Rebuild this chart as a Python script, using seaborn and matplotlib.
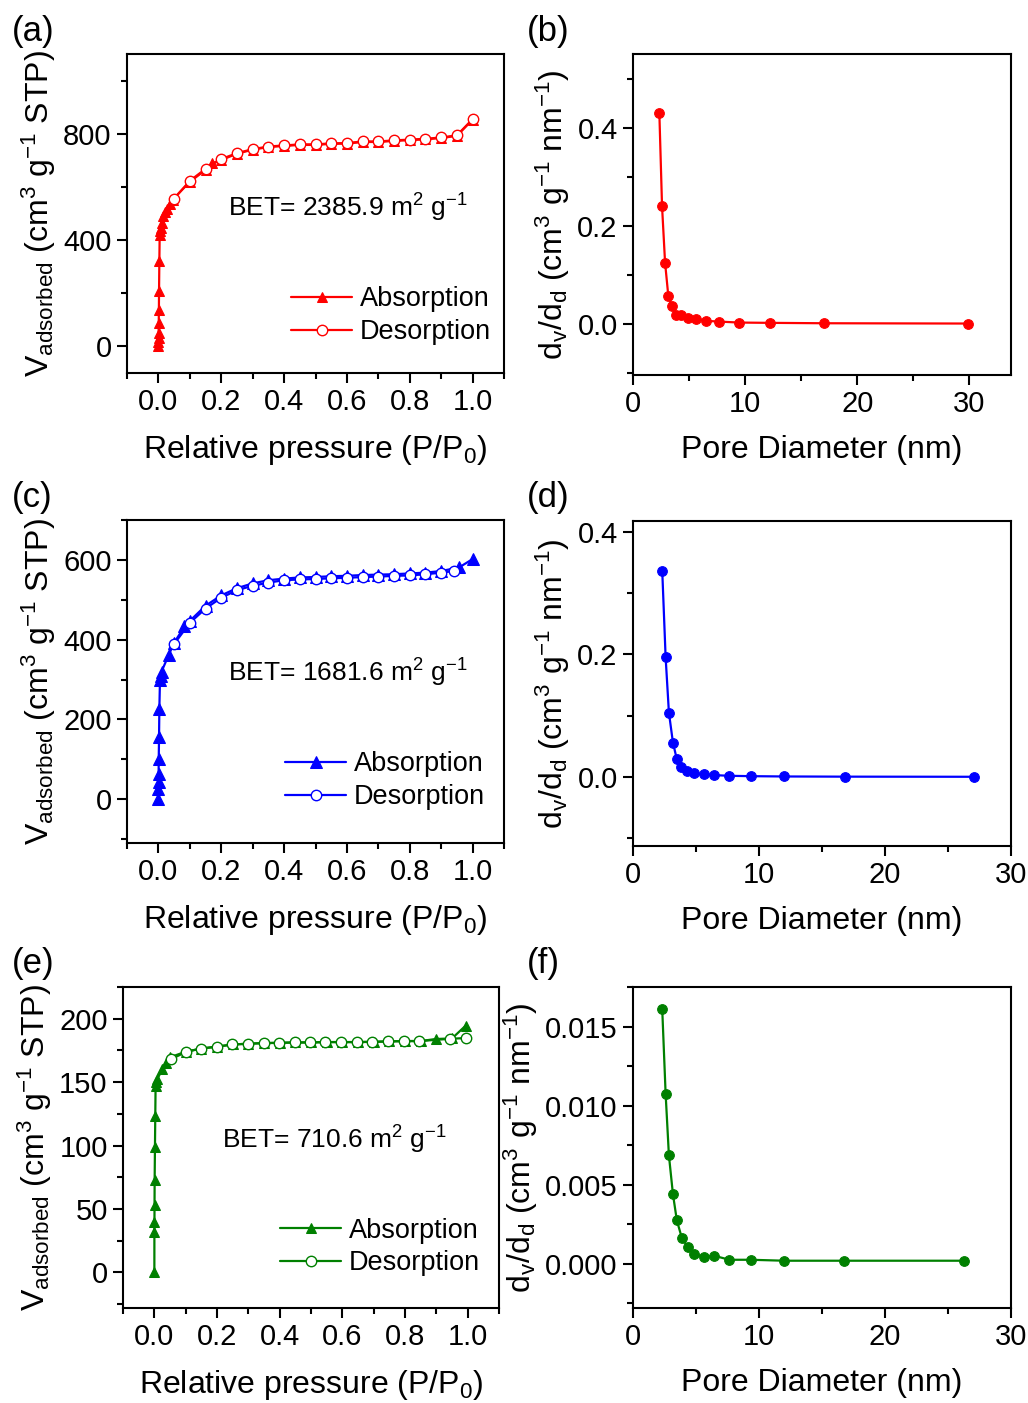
import seaborn as sns
import matplotlib.pyplot as plt
from matplotlib.ticker import MultipleLocator, FormatStrFormatter

# isotherm (a)
ads_a_x = [0.0001, 0.0002, 0.0004, 0.0006, 0.001, 0.0015, 0.002, 0.003, 0.004, 0.005, 0.007,
           0.01, 0.015, 0.02, 0.028, 0.036, 0.045, 0.1, 0.15, 0.17, 0.2, 0.25, 0.3, 0.35, 0.4,
           0.45, 0.5, 0.55, 0.6, 0.65, 0.7, 0.75, 0.8, 0.85, 0.9, 0.95, 1.0]
ads_a_y = [2, 15, 30, 50, 88, 136, 210, 322, 420, 435, 446,
           464, 489, 505, 517, 537, 552, 619, 664, 689, 701, 725, 740, 750, 754,
           758, 758, 762, 763, 769, 769, 773, 776, 779, 784, 792, 853]
des_a_x = [1.0, 0.95, 0.9, 0.85, 0.8, 0.75, 0.7, 0.65, 0.6, 0.55, 0.5, 0.45, 0.4, 0.35,
           0.3, 0.25, 0.2, 0.15, 0.1, 0.05]
des_a_y = [855, 794, 786, 781, 778, 775, 771, 771, 765, 764, 760, 760, 756, 752,
           742, 727, 705, 668, 623, 556]

# isotherm (c)
ads_c_x = [0.0001, 0.0002, 0.0004, 0.0006, 0.001, 0.002, 0.003, 0.005, 0.007, 0.01,
           0.033, 0.05, 0.083, 0.1, 0.15, 0.2, 0.25, 0.3, 0.35, 0.4, 0.45, 0.5, 0.55,
           0.6, 0.65, 0.7, 0.75, 0.8, 0.85, 0.9, 0.957, 1.0]
ads_c_y = [0, 25, 42, 63, 101, 156, 227, 300, 310, 320,
           362, 392, 433, 447, 485, 511, 529, 541, 549, 553, 556, 557, 559,
           560, 562, 563, 564, 566, 568, 572, 581, 602]
des_c_x = [0.94, 0.9, 0.85, 0.8, 0.75, 0.7, 0.65, 0.6, 0.55, 0.5, 0.45, 0.4, 0.35,
           0.3, 0.25, 0.2, 0.15, 0.1, 0.05]
des_c_y = [572, 568, 564, 561, 560, 558, 557, 555, 554, 552, 551, 549, 543,
           535, 524, 505, 478, 442, 389]

# isotherm (e)
ads_e_x = [0.0001, 0.0002, 0.0004, 0.0006, 0.001, 0.002, 0.003, 0.004, 0.006,
           0.01, 0.026, 0.037, 0.05, 0.1, 0.15, 0.2, 0.25, 0.3, 0.35, 0.4, 0.45, 0.5,
           0.55, 0.6, 0.65, 0.7, 0.75, 0.8, 0.85, 0.898, 0.95, 0.994]
ads_e_y = [0, 32, 40, 53, 73, 99, 123, 147, 150,
           152.6, 160.5, 165, 169.6, 174, 176.5, 178, 179.7, 180.3, 180.8, 181, 181.3, 181.3,
           181.6, 181.6, 181.6, 181.8, 182.1, 182.4, 182.4, 184, 184.5, 194.6]
des_e_x = [0.996, 0.945, 0.846, 0.796, 0.746, 0.695, 0.646, 0.596, 0.546, 0.497, 0.448,
           0.398, 0.35, 0.3, 0.249, 0.2, 0.15, 0.102, 0.053]
des_e_y = [184.8, 184.2, 182.4, 182.4, 182.1, 181.8, 181.6, 181.6, 181.6, 181.3, 181.3,
           181, 180.8, 180.3, 179.7, 178, 176.5, 174, 168]

# pore size distributions
pore_b_x = [2.35, 2.59, 2.86, 3.15, 3.48, 3.84, 4.29, 4.88, 5.6, 6.49, 7.7, 9.44, 12.2, 17.0, 29.9]
pore_b_y = [0.429, 0.239, 0.124, 0.056, 0.035, 0.018, 0.018, 0.011, 0.0096, 0.0055, 0.004,
            0.002, 0.0014, 0.0006, 0.0]
pore_d_x = [2.32, 2.59, 2.85, 3.17, 3.48, 3.83, 4.3, 4.88, 5.6, 6.46, 7.65, 9.36, 12.0, 16.8, 27.1]
pore_d_y = [0.337, 0.195, 0.105, 0.056, 0.0285, 0.0154, 0.0099, 0.0055, 0.0039, 0.0028, 0.0017,
            0.0011, 0.0006, 0.0003, 0.0001]
pore_f_x = [2.32, 2.59, 2.85, 3.17, 3.48, 3.88, 4.36, 4.88, 5.6, 6.46, 7.65, 9.36, 12.0, 16.75, 26.3]
pore_f_y = [0.0161, 0.01073, 0.00685, 0.0044, 0.00274, 0.00162, 0.00105, 0.00061, 0.00042,
            0.0005, 0.00025, 0.00025, 0.00019, 0.00019, 0.00019]

bet_labels = ["BET= 2385.9 m$^2$ g$^{-1}$", "BET= 1681.6 m$^2$ g$^{-1}$", "BET= 710.6 m$^2$ g$^{-1}$"]
colors = ["#ff0000", "#0000ff", "#008000"]

sns.set_theme(style="ticks")
plt.rcParams["font.family"] = ["Liberation Sans", "DejaVu Sans"]
plt.rcParams["mathtext.fontset"] = "custom"
plt.rcParams["mathtext.rm"] = "Liberation Sans"
plt.rcParams["mathtext.it"] = "Liberation Sans:italic"
plt.rcParams["mathtext.bf"] = "Liberation Sans:bold"
plt.rcParams["axes.linewidth"] = 1.5
for k in ["text.color", "axes.labelcolor", "xtick.color", "ytick.color", "axes.edgecolor"]:
    plt.rcParams[k] = "black"

W, H = 1028, 1403
fig = plt.figure(figsize=(W / 100, H / 100), dpi=100)


def add_axes(l, r, t, b):
    return fig.add_axes([l / W, 1 - b / H, (r - l) / W, (b - t) / H])


boxes_iso = [(127, 504, 54, 373), (127, 504, 520, 843), (123, 499, 987, 1308)]
boxes_pore = [(633, 1011, 54, 375), (633, 1011, 521, 846), (633, 1011, 987, 1308)]

iso = [(ads_a_x, ads_a_y, des_a_x, des_a_y), (ads_c_x, ads_c_y, des_c_x, des_c_y),
       (ads_e_x, ads_e_y, des_e_x, des_e_y)]
pore = [(pore_b_x, pore_b_y), (pore_d_x, pore_d_y), (pore_f_x, pore_f_y)]
iso_ylim = [(-100, 1100), (-110, 700), (-28, 225)]
iso_major = [400, 200, 50]
tri_ms = [6.5, 8.5, 7]
leg_anchor = [(0.995, 0.053), (0.979, 0.068), (0.979, 0.065)]
bet_pos = [(0.268, 0.517), (0.268, 0.526), (0.264, 0.523)]
pore_ylim = [(-0.105, 0.55), (-0.113, 0.418), (-0.0028, 0.0175)]
pore_xlim = [(0, 33.7), (0, 30), (0, 30)]
pore_major = [0.2, 0.2, 0.005]
letters = [("(a)", "(b)"), ("(c)", "(d)"), ("(e)", "(f)")]
letter_y = [32, 497, 963]

tick_fs = 21
label_fs = 23


def style(ax):
    ax.tick_params(which="both", direction="out", top=False, right=False,
                   labelsize=tick_fs, width=1.5, color="black", labelcolor="black")
    ax.tick_params(which="major", length=7, pad=4)
    ax.tick_params(which="minor", length=4)
    for s in ax.spines.values():
        s.set_visible(True)
        s.set_color("black")
        s.set_linewidth(1.5)


for i in range(3):
    c = colors[i]
    ax = add_axes(*boxes_iso[i])
    ax_, ay_, dx_, dy_ = iso[i]
    sns.lineplot(x=ax_, y=ay_, ax=ax, color=c, marker="^", markersize=tri_ms[i],
                 markeredgecolor=c, markerfacecolor=c, linewidth=1.6,
                 estimator=None, sort=False, label="Absorption")
    sns.lineplot(x=dx_, y=dy_, ax=ax, color=c, marker="o", markersize=7.5,
                 markeredgecolor=c, markerfacecolor="white", markeredgewidth=1.0,
                 linewidth=1.6, estimator=None, sort=False, label="Desorption")
    ax.set_xlim(-0.1, 1.1)
    ax.set_ylim(*iso_ylim[i])
    ax.xaxis.set_major_locator(MultipleLocator(0.2))
    ax.xaxis.set_minor_locator(MultipleLocator(0.1))
    ax.xaxis.set_major_formatter(FormatStrFormatter("%.1f"))
    ax.yaxis.set_major_locator(MultipleLocator(iso_major[i]))
    ax.yaxis.set_minor_locator(MultipleLocator(iso_major[i] / 2))
    style(ax)
    ax.set_xlabel("Relative pressure (P/P$_0$)", fontsize=label_fs, labelpad=12)
    ax.set_ylabel("V$_{\\mathrm{adsorbed}}$ (cm$^3$ g$^{-1}$ STP)", fontsize=label_fs, labelpad=4)
    ax.text(*bet_pos[i], bet_labels[i], transform=ax.transAxes, fontsize=19,
            ha="left", va="center")
    ax.legend(loc="lower right", bbox_to_anchor=leg_anchor[i], borderaxespad=0,
              frameon=False, fontsize=19.5, handlelength=2.25,
              handletextpad=0.3, labelspacing=0.25)

    bx = add_axes(*boxes_pore[i])
    px_, py_ = pore[i]
    sns.lineplot(x=px_, y=py_, ax=bx, color=c, marker="o", markersize=7,
                 markeredgecolor=c, markerfacecolor=c, linewidth=1.6,
                 estimator=None, sort=False)
    bx.set_xlim(*pore_xlim[i])
    bx.set_ylim(*pore_ylim[i])
    bx.xaxis.set_major_locator(MultipleLocator(10))
    bx.xaxis.set_minor_locator(MultipleLocator(5))
    bx.yaxis.set_major_locator(MultipleLocator(pore_major[i]))
    bx.yaxis.set_minor_locator(MultipleLocator(pore_major[i] / 2))
    if i == 2:
        bx.yaxis.set_major_formatter(FormatStrFormatter("%.3f"))
    else:
        bx.yaxis.set_major_formatter(FormatStrFormatter("%.1f"))
    style(bx)
    bx.set_xlabel("Pore Diameter (nm)", fontsize=label_fs, labelpad=12)
    bx.set_ylabel("d$_\\mathrm{v}$/d$_\\mathrm{d}$ (cm$^3$ g$^{-1}$ nm$^{-1}$)",
                  fontsize=label_fs, labelpad=4)

    fig.text(12 / W, 1 - letter_y[i] / H, letters[i][0], fontsize=25, ha="left", va="center")
    fig.text(527 / W, 1 - letter_y[i] / H, letters[i][1], fontsize=25, ha="left", va="center")

fig.savefig("out.png", dpi=100)
